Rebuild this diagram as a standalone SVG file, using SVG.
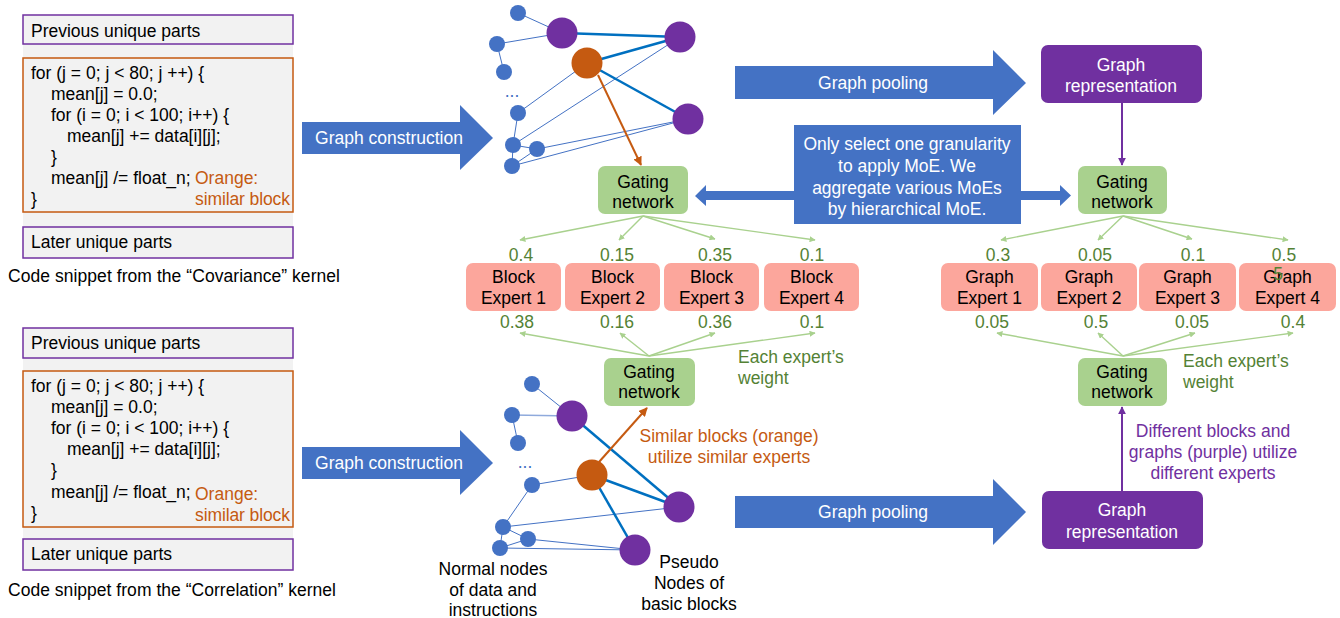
<svg xmlns="http://www.w3.org/2000/svg" width="1340" height="618" viewBox="0 0 1340 618">
<defs>
<style>
text{font-family:"Liberation Sans",Arial,sans-serif;font-size:17.5px;fill:#000}
.w{fill:#fff}
.c{text-anchor:middle}
.or{fill:#c55a11}
.gr{fill:#548235}
.pu{fill:#7030a0}
.uniq{fill:#f2f2f2;stroke:#7030a0;stroke-width:1.5}
.code{fill:#f2f2f2;stroke:#c55a11;stroke-width:1.5}
.bg{fill:#f2f2f2}
.barrow{fill:#4472c4}
.gate{fill:#a9d18e}
.exp{fill:#fca69c}
.rep{fill:#7030a0}
.sn{fill:#4472c4}
.pn{fill:#7030a0}
.on{fill:#c55a11}
.thin{stroke:#4472c4;stroke-width:1;fill:none}
.thick{stroke:#0070c0;stroke-width:2.5;fill:none}
.garr{stroke:#a9d18e;stroke-width:1.4;fill:none;marker-end:url(#mg)}
.oarr{stroke:#c55a11;stroke-width:2;fill:none;marker-end:url(#mo)}
.parr{stroke:#7030a0;stroke-width:2;fill:none;marker-end:url(#mp)}
</style>
<marker id="mg" viewBox="0 0 10 10" refX="9" refY="5" markerWidth="6" markerHeight="6" orient="auto" markerUnits="userSpaceOnUse"><path d="M0,0L10,5L0,10z" fill="#a9d18e"/></marker>
<marker id="mo" viewBox="0 0 10 10" refX="9" refY="5" markerWidth="9" markerHeight="9" orient="auto" markerUnits="userSpaceOnUse"><path d="M0,0L10,5L0,10z" fill="#c55a11"/></marker>
<marker id="mp" viewBox="0 0 10 10" refX="9" refY="5" markerWidth="8" markerHeight="8" orient="auto" markerUnits="userSpaceOnUse"><path d="M0,0L10,5L0,10z" fill="#7030a0"/></marker>
</defs>

<!-- Top code snippet -->
<g id="code-top">
<rect class="bg" x="23" y="15" width="270" height="243"/>
<rect class="uniq" x="23" y="15" width="270" height="29"/>
<text x="31" y="37">Previous unique parts</text>
<rect class="code" x="23" y="58" width="270" height="154"/>
<text x="31" y="79">for (j = 0; j &lt; 80; j ++) {</text>
<text x="51" y="100">mean[j] = 0.0;</text>
<text x="51" y="121">for (i = 0; i &lt; 100; i++) {</text>
<text x="67" y="142">mean[j] += data[i][j];</text>
<text x="51" y="163">}</text>
<text x="51" y="184">mean[j] /= float_n;</text>
<text x="31" y="205">}</text>
<text class="or" x="195" y="184">Orange:</text>
<text class="or" x="195" y="205" textLength="95">similar block</text>
<rect class="uniq" x="23" y="227" width="270" height="31"/>
<text x="31" y="248">Later unique parts</text>
<text x="8" y="282" textLength="332">Code snippet from the “Covariance” kernel</text>
</g>

<!-- Bottom code snippet -->
<g id="code-bottom">
<rect class="bg" x="23" y="328" width="270" height="242"/>
<rect class="uniq" x="23" y="328" width="270" height="30"/>
<text x="31" y="349">Previous unique parts</text>
<rect class="code" x="23" y="371" width="270" height="156"/>
<text x="31" y="392">for (j = 0; j &lt; 80; j ++) {</text>
<text x="51" y="413">mean[j] = 0.0;</text>
<text x="51" y="434">for (i = 0; i &lt; 100; i++) {</text>
<text x="67" y="455">mean[j] += data[i][j];</text>
<text x="51" y="476">}</text>
<text x="51" y="498">mean[j] /= float_n;</text>
<text x="31" y="519">}</text>
<text class="or" x="195" y="500">Orange:</text>
<text class="or" x="195" y="521" textLength="95">similar block</text>
<rect class="uniq" x="23" y="539" width="270" height="31"/>
<text x="31" y="560">Later unique parts</text>
<text x="8" y="596" textLength="328">Code snippet from the “Correlation” kernel</text>
</g>

<!-- Block arrows -->
<g id="arrow-construct-top">
<path class="barrow" d="M302,122H460V105L493,138L460,170V154H302z"/>
<text class="w c" x="389" y="144">Graph construction</text>
</g>
<g id="arrow-construct-bottom">
<path class="barrow" d="M302,447H460V430L493,463L460,495V479H302z"/>
<text class="w c" x="389" y="469">Graph construction</text>
</g>
<g id="arrow-pool-top">
<path class="barrow" d="M735,66H993V50L1026,83L993,115V99H735z"/>
<text class="w c" x="873" y="89">Graph pooling</text>
</g>
<g id="arrow-pool-bottom">
<path class="barrow" d="M735,496H993V479L1026,512L993,545V528H735z"/>
<text class="w c" x="873" y="518">Graph pooling</text>
</g>

<!-- Double arrow + note -->
<g id="note">
<path class="barrow" d="M706,191H1060V185L1071,195.5L1060,206V200H706V206L695,196L706,185z"/>
<rect class="barrow" x="794" y="125" width="227" height="99"/>
<text class="w c" x="907" y="150">Only select one granularity</text>
<text class="w c" x="907" y="172">to apply MoE. We</text>
<text class="w c" x="907" y="194">aggregate various MoEs</text>
<text class="w c" x="907" y="215">by hierarchical MoE.</text>
</g>

<!-- Connectors -->
<g id="connectors">
<!-- top graph thin edges -->
<line class="thin" x1="518" y1="13" x2="562" y2="33"/>
<line class="thin" x1="497" y1="44" x2="562" y2="33"/>
<line class="thin" x1="497" y1="44" x2="504" y2="72"/>
<line class="thin" x1="518" y1="113" x2="587" y2="63"/>
<line class="thin" x1="518" y1="113" x2="513" y2="145"/>
<line class="thin" x1="513" y1="145" x2="680" y2="37"/>
<line class="thin" x1="513" y1="145" x2="512" y2="166"/>
<line class="thin" x1="513" y1="145" x2="537" y2="149"/>
<line class="thin" x1="512" y1="166" x2="537" y2="149"/>
<line class="thin" x1="537" y1="149" x2="688" y2="119"/>
<line class="thin" x1="512" y1="166" x2="688" y2="119"/>
<!-- top graph thick edges -->
<line class="thick" x1="562" y1="33" x2="680" y2="37"/>
<line class="thick" x1="587" y1="63" x2="680" y2="37"/>
<line class="thick" x1="587" y1="63" x2="688" y2="119"/>
<line class="oarr" x1="598" y1="75" x2="641" y2="165"/>

<!-- bottom graph thin edges -->
<line class="thin" x1="532" y1="384" x2="572" y2="416"/>
<line class="thin" x1="512" y1="415" x2="572" y2="416" style="stroke:#8faadc;stroke-width:1.5"/>
<line class="thin" x1="512" y1="415" x2="518" y2="443"/>
<line class="thin" x1="532" y1="485" x2="592" y2="475"/>
<line class="thin" x1="532" y1="485" x2="503" y2="527"/>
<line class="thin" x1="503" y1="527" x2="679" y2="507"/>
<line class="thin" x1="503" y1="527" x2="528" y2="539"/>
<line class="thin" x1="503" y1="527" x2="500" y2="548"/>
<line class="thin" x1="500" y1="548" x2="528" y2="539"/>
<line class="thin" x1="528" y1="539" x2="635" y2="550"/>
<line class="thin" x1="500" y1="548" x2="635" y2="550"/>
<!-- bottom graph thick edges -->
<line class="thick" x1="572" y1="416" x2="679" y2="507"/>
<line class="thick" x1="592" y1="475" x2="679" y2="507"/>
<line class="thick" x1="592" y1="475" x2="635" y2="550"/>
<line class="oarr" x1="599" y1="462" x2="647" y2="408"/>

<!-- gating to experts arrows -->
<line class="garr" x1="643" y1="216" x2="520" y2="240"/>
<line class="garr" x1="643" y1="216" x2="619" y2="240"/>
<line class="garr" x1="643" y1="216" x2="715" y2="239"/>
<line class="garr" x1="643" y1="216" x2="815" y2="240"/>
<line class="garr" x1="649" y1="356" x2="520" y2="333"/>
<line class="garr" x1="649" y1="356" x2="620" y2="333"/>
<line class="garr" x1="649" y1="356" x2="715" y2="333"/>
<line class="garr" x1="649" y1="356" x2="815" y2="333"/>
<line class="garr" x1="1123" y1="216" x2="1001" y2="240"/>
<line class="garr" x1="1123" y1="216" x2="1098" y2="240"/>
<line class="garr" x1="1123" y1="216" x2="1192" y2="239"/>
<line class="garr" x1="1123" y1="216" x2="1288" y2="240"/>
<line class="garr" x1="1123" y1="356" x2="997" y2="333"/>
<line class="garr" x1="1123" y1="356" x2="1098" y2="333"/>
<line class="garr" x1="1123" y1="356" x2="1195" y2="333"/>
<line class="garr" x1="1123" y1="356" x2="1293" y2="333"/>

<!-- graph representation arrows -->
<line class="parr" x1="1122" y1="103" x2="1122" y2="165"/>
<line class="parr" x1="1122" y1="491" x2="1122" y2="407"/>
</g>

<!-- Graph nodes top -->
<g id="graph-top">
<circle class="sn" cx="518" cy="13" r="8"/>
<circle class="sn" cx="497" cy="44" r="8"/>
<circle class="sn" cx="504" cy="72" r="8"/>
<text x="512" y="97" class="c" style="fill:#4472c4">...</text>
<circle class="sn" cx="518" cy="113" r="8"/>
<circle class="sn" cx="513" cy="145" r="8"/>
<circle class="sn" cx="537" cy="149" r="8"/>
<circle class="sn" cx="512" cy="166" r="8"/>
<circle class="pn" cx="562" cy="33" r="15.5"/>
<circle class="on" cx="587" cy="63" r="15.5"/>
<circle class="pn" cx="680" cy="37" r="15.5"/>
<circle class="pn" cx="688" cy="119" r="15.5"/>
</g>

<!-- Graph nodes bottom -->
<g id="graph-bottom">
<circle class="sn" cx="532" cy="384" r="8"/>
<circle class="sn" cx="512" cy="415" r="8"/>
<circle class="sn" cx="518" cy="443" r="8"/>
<text x="525" y="468" class="c" style="fill:#4472c4">...</text>
<circle class="sn" cx="532" cy="485" r="8"/>
<circle class="sn" cx="503" cy="527" r="8"/>
<circle class="sn" cx="528" cy="539" r="8"/>
<circle class="sn" cx="500" cy="548" r="8"/>
<circle class="pn" cx="572" cy="416" r="15.5"/>
<circle class="on" cx="592" cy="475" r="15.5"/>
<circle class="pn" cx="679" cy="507" r="15.5"/>
<circle class="pn" cx="635" cy="550" r="15.5"/>
</g>

<!-- Gating networks -->
<g id="gate-tl">
<rect class="gate" x="598" y="166" width="90" height="48" rx="7"/>
<text class="c" x="643" y="188">Gating</text>
<text class="c" x="643" y="208">network</text>
</g>
<g id="gate-bl">
<rect class="gate" x="604" y="358" width="91" height="48" rx="7"/>
<text class="c" x="649" y="378">Gating</text>
<text class="c" x="649" y="398">network</text>
</g>
<g id="gate-tr">
<rect class="gate" x="1078" y="166" width="89" height="48" rx="7"/>
<text class="c" x="1122" y="188">Gating</text>
<text class="c" x="1122" y="208">network</text>
</g>
<g id="gate-br">
<rect class="gate" x="1078" y="358" width="89" height="48" rx="7"/>
<text class="c" x="1122" y="378">Gating</text>
<text class="c" x="1122" y="398">network</text>
</g>

<!-- Block experts -->
<g id="block-expert-1"><rect class="exp" x="466" y="263" width="95" height="48" rx="7"/><text class="c" x="513.5" y="283">Block</text><text class="c" x="513.5" y="304">Expert 1</text></g>
<g id="block-expert-2"><rect class="exp" x="565" y="263" width="95" height="48" rx="7"/><text class="c" x="612.5" y="283">Block</text><text class="c" x="612.5" y="304">Expert 2</text></g>
<g id="block-expert-3"><rect class="exp" x="664" y="263" width="95" height="48" rx="7"/><text class="c" x="711.5" y="283">Block</text><text class="c" x="711.5" y="304">Expert 3</text></g>
<g id="block-expert-4"><rect class="exp" x="764" y="263" width="95" height="48" rx="7"/><text class="c" x="811.5" y="283">Block</text><text class="c" x="811.5" y="304">Expert 4</text></g>

<!-- Graph experts -->
<g id="graph-expert-1"><rect class="exp" x="941" y="263" width="97" height="48" rx="7"/><text class="c" x="989.5" y="283">Graph</text><text class="c" x="989.5" y="304">Expert 1</text></g>
<g id="graph-expert-2"><rect class="exp" x="1041" y="263" width="96" height="48" rx="7"/><text class="c" x="1089" y="283">Graph</text><text class="c" x="1089" y="304">Expert 2</text></g>
<g id="graph-expert-3"><rect class="exp" x="1139" y="263" width="97" height="48" rx="7"/><text class="c" x="1187.5" y="283">Graph</text><text class="c" x="1187.5" y="304">Expert 3</text></g>
<g id="graph-expert-4"><rect class="exp" x="1239" y="263" width="97" height="48" rx="7"/><text class="c" x="1287.5" y="283">Graph</text><text class="c" x="1287.5" y="304">Expert 4</text></g>

<!-- Weights -->
<g id="weights">
<text class="gr c" x="521" y="261">0.4</text>
<text class="gr c" x="617" y="261">0.15</text>
<text class="gr c" x="715" y="261">0.35</text>
<text class="gr c" x="812" y="261">0.1</text>
<text class="gr c" x="517" y="328">0.38</text>
<text class="gr c" x="617" y="328">0.16</text>
<text class="gr c" x="715" y="328">0.36</text>
<text class="gr c" x="812" y="328">0.1</text>
<text class="gr c" x="998" y="261">0.3</text>
<text class="gr c" x="1095" y="261">0.05</text>
<text class="gr c" x="1193" y="261">0.1</text>
<text class="gr c" x="1284" y="261">0.5</text>
<text class="gr c" x="1278" y="280">5</text>
<text class="gr c" x="992" y="328">0.05</text>
<text class="gr c" x="1096" y="328">0.5</text>
<text class="gr c" x="1192" y="328">0.05</text>
<text class="gr c" x="1293" y="328">0.4</text>
<text class="gr" x="738" y="363">Each expert’s</text>
<text class="gr" x="738" y="384">weight</text>
<text class="gr" x="1183" y="367">Each expert’s</text>
<text class="gr" x="1183" y="388">weight</text>
</g>

<!-- Graph representations -->
<g id="rep-top">
<rect class="rep" x="1041" y="45" width="161" height="58" rx="7"/>
<text class="w c" x="1121" y="71">Graph</text>
<text class="w c" x="1121" y="92">representation</text>
</g>
<g id="rep-bottom">
<rect class="rep" x="1042" y="491" width="161" height="58" rx="7"/>
<text class="w c" x="1122" y="516">Graph</text>
<text class="w c" x="1122" y="538">representation</text>
</g>

<!-- Annotations -->
<g id="labels">
<text class="or c" x="729" y="442">Similar blocks (orange)</text>
<text class="or c" x="729" y="463">utilize similar experts</text>
<text class="pu c" x="1213" y="437">Different blocks and</text>
<text class="pu c" x="1213" y="458">graphs (purple) utilize</text>
<text class="pu c" x="1213" y="479">different experts</text>
<text class="c" x="493" y="575">Normal nodes</text>
<text class="c" x="493" y="596">of data and</text>
<text class="c" x="493" y="616">instructions</text>
<text class="c" x="689" y="568">Pseudo</text>
<text class="c" x="689" y="589">Nodes of</text>
<text class="c" x="689" y="610">basic blocks</text>
</g>
</svg>
